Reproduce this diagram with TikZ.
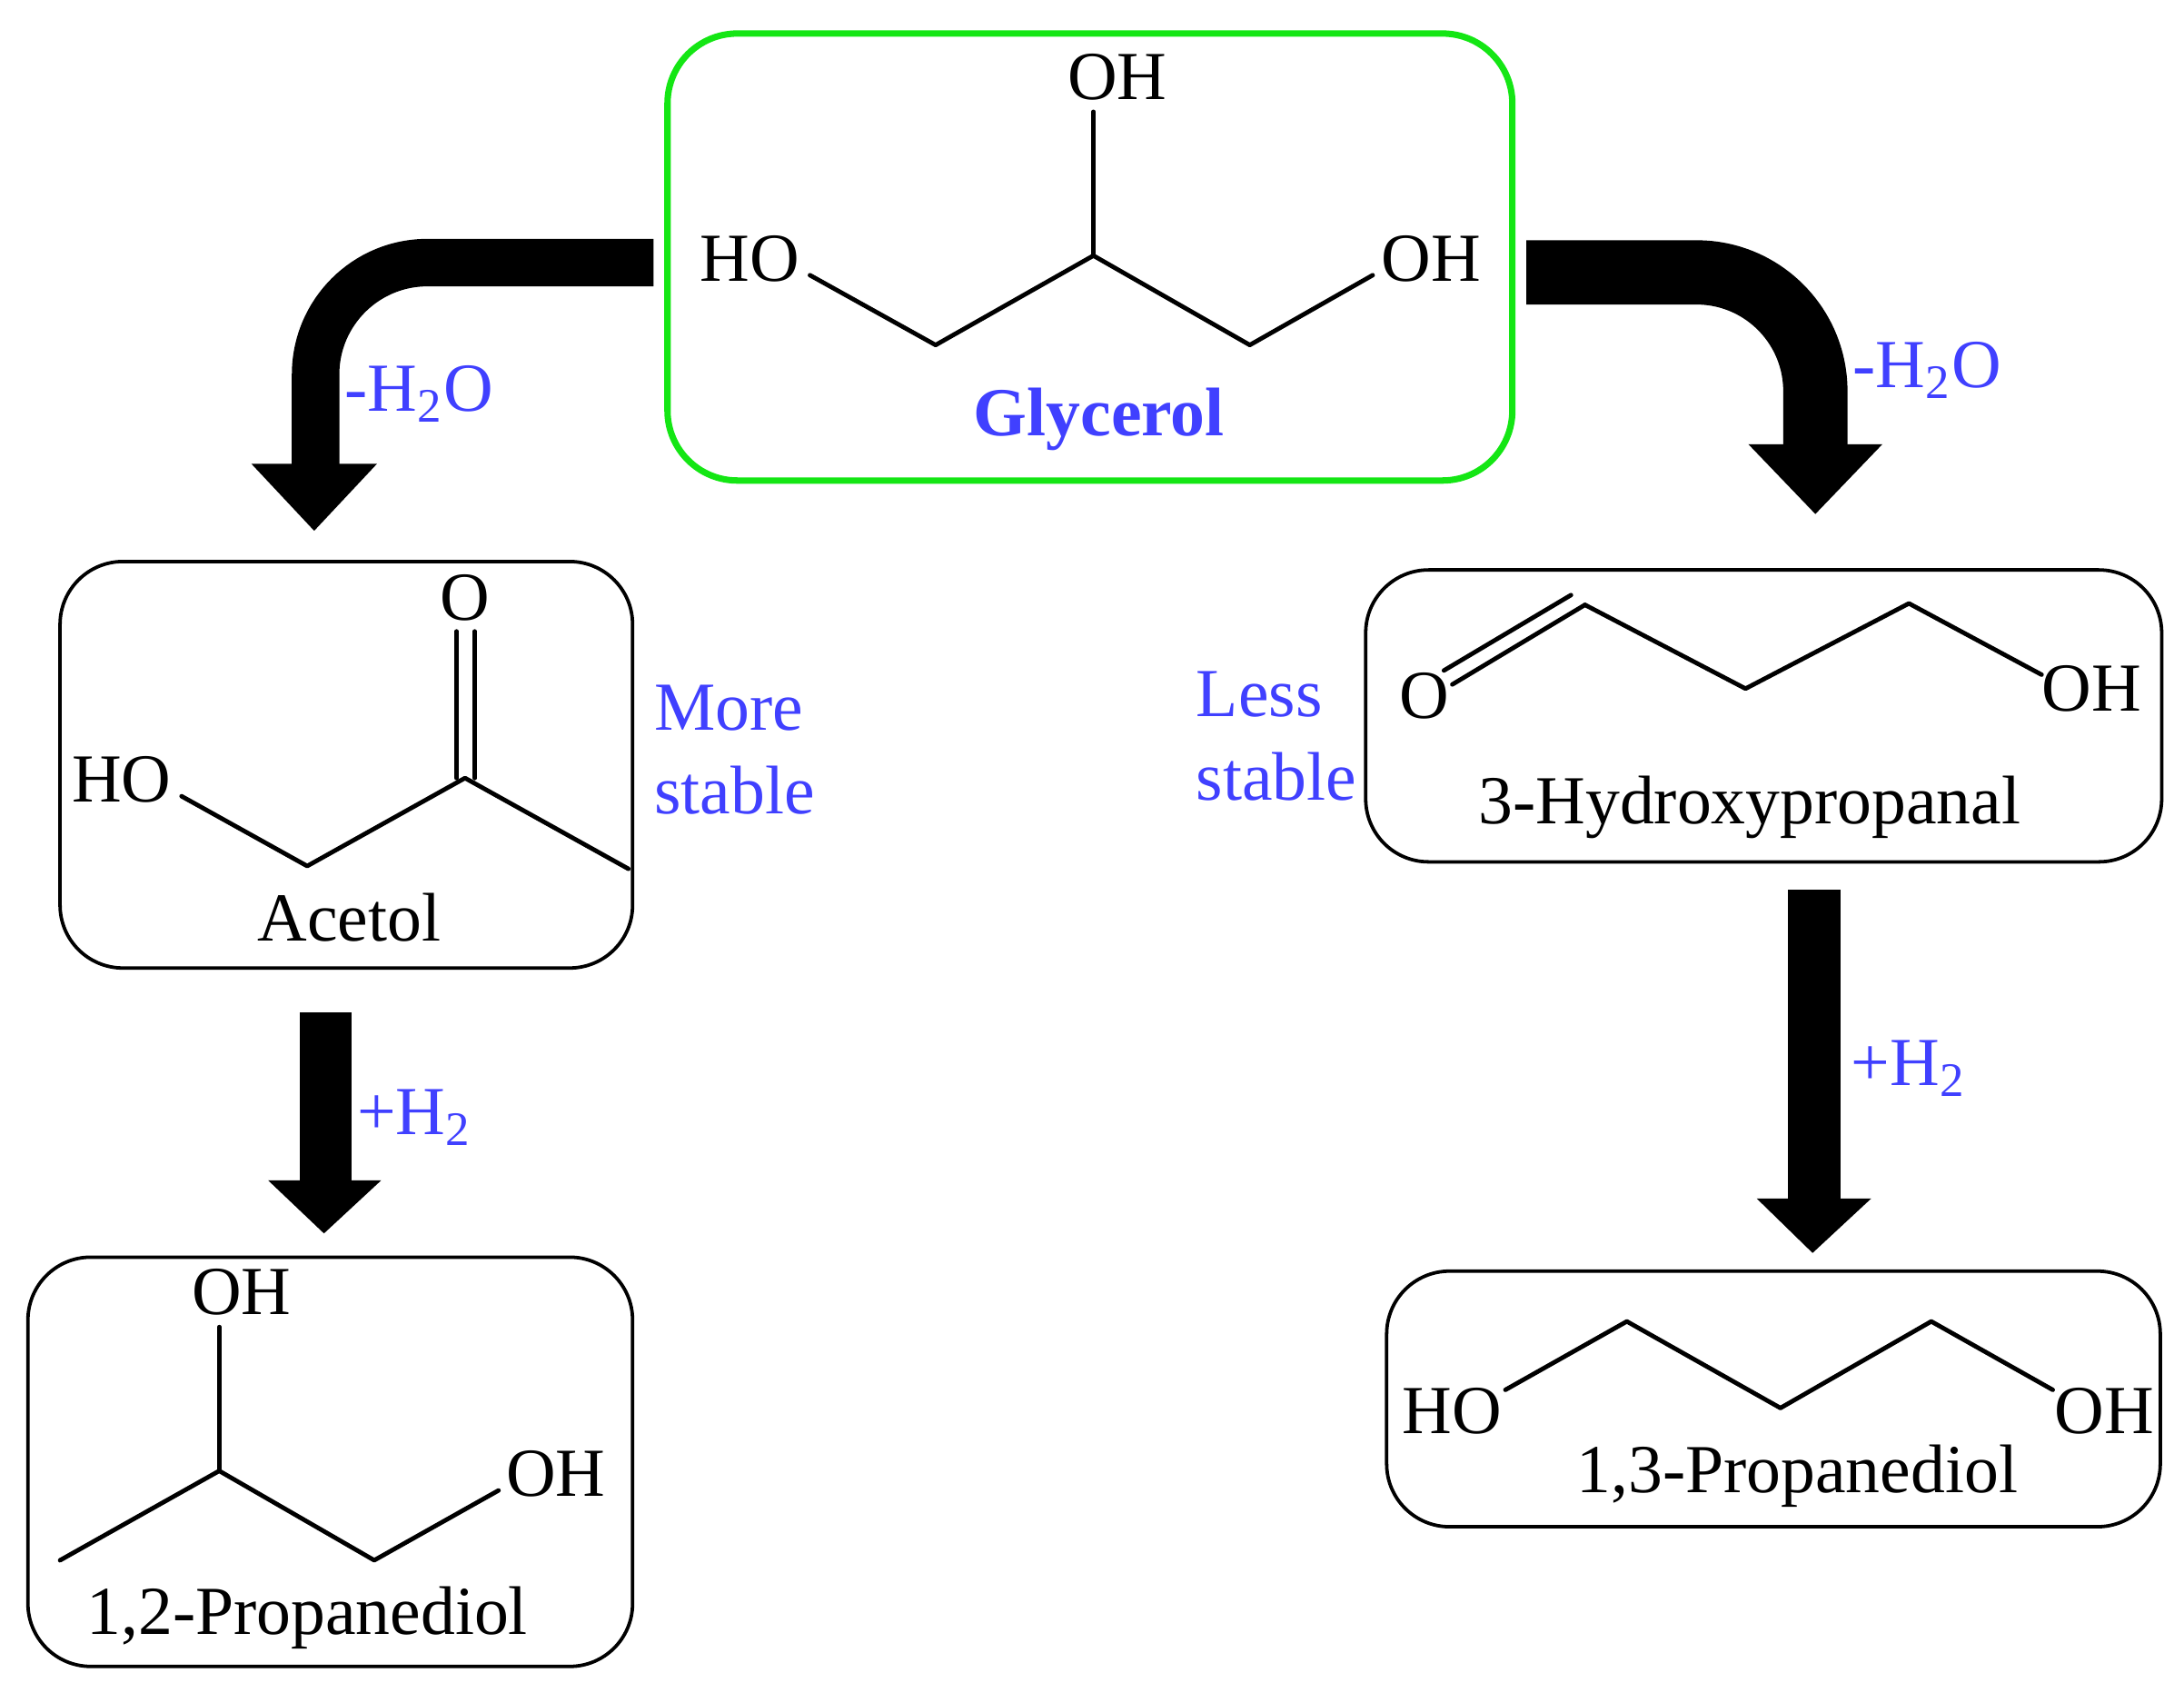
\documentclass[tikz,border=0pt]{standalone}
\usepackage{fontspec}
\setmainfont{Liberation Serif}
\begin{document}
\begin{tikzpicture}[x=0.01cm,y=-0.01cm,
  bond/.style={line width=0.9pt,line cap=round,line join=round},
  box/.style={draw,line width=0.7pt,rounded corners=0.45cm},
  atom/.style={font=\fontsize{14}{16}\selectfont,inner sep=0pt},
  lab/.style={font=\fontsize{14}{16}\selectfont,inner sep=0pt},
  blue/.style={text=bl,font=\fontsize{14}{17}\selectfont,inner sep=0pt}]
\definecolor{bl}{RGB}{64,64,255}
\definecolor{gr}{RGB}{20,230,20}
\useasboundingbox (0,0) rectangle (1564,1212);
% boxes
\draw[draw=gr,line width=1.3pt,rounded corners=0.5cm] (478,24) rectangle (1083,344);
\draw[box] (43,402) rectangle (453,693);
\draw[box] (20,900) rectangle (453,1193);
\draw[box] (978,408) rectangle (1548,617);
\draw[box] (993,910) rectangle (1547,1093);
% glycerol
\node[atom] (g1) at (537,185) {HO};
\node[atom] (g2) at (800,55) {OH};
\node[atom] (g3) at (1025,185) {OH};
\draw[bond] (580,197)--(670,247)--(783,183)--(895,247)--(983,197);
\draw[bond] (783,183)--(783,80);
\node[font=\fontsize{14}{16}\selectfont\bfseries,text=bl] (gl) at (787,300) {Glycerol};
% acetol
\node[atom] at (87,558) {HO};
\draw[bond] (130,570)--(220,620)--(333,557)--(450,622);
\draw[bond] (327,557)--(327,452);
\draw[bond] (340,557)--(340,452);
\node[atom] at (333,428) {O};
\node[lab] at (250,657) {Acetol};
\node[blue,align=left,anchor=north west] at (468,490) {More\\stable};
% 1,2-propanediol
\node[atom] at (173,925) {OH};
\draw[bond] (157,950)--(157,1053);
\draw[bond] (43,1117)--(157,1053)--(268,1117)--(357,1067);
\node[atom] at (398,1055) {OH};
\node[lab] at (220,1158) {1,2-Propanediol};
% 3-hydroxypropanal
\node[atom] at (1020,498) {O};
\draw[bond] (1040,490)--(1135,433);
\draw[bond] (1034,480)--(1125,426);
\draw[bond] (1135,433)--(1250,493)--(1367,432)--(1462,483);
\node[atom] at (1498,493) {OH};
\node[lab] at (1253,578) {3-Hydroxypropanal};
\node[blue,align=left,anchor=north west] at (856,480) {Less\\stable};
% 1,3-propanediol
\node[atom] at (1040,1010) {HO};
\draw[bond] (1078,995)--(1165,946)--(1275,1008)--(1383,946)--(1470,995);
\node[atom] at (1507,1010) {OH};
\node[lab] at (1287,1057) {1,3-Propanediol};
% arrows
\draw[line width=0.34cm,rounded corners=0.8cm] (468,188)--(226,188)--(226,335);
\fill (180,332)--(270,332)--(225,380)--cycle;
\draw[line width=0.46cm,rounded corners=0.85cm] (1093,195)--(1300,195)--(1300,320);
\fill (1252,318)--(1348,318)--(1300,368)--cycle;
\fill (215,725) rectangle (252,847);
\fill (192,845)--(273,845)--(232,883)--cycle;
\fill (1280,637) rectangle (1318,860);
\fill (1258,858)--(1340,858)--(1298,897)--cycle;
% labels
\node[blue] at (300,282) {-H\textsubscript{2}O};
\node[blue] at (1380,265) {-H\textsubscript{2}O};
\node[blue] at (297,800) {+H\textsubscript{2}};
\node[blue] at (1367,765) {+H\textsubscript{2}};
\end{tikzpicture}
\end{document}
